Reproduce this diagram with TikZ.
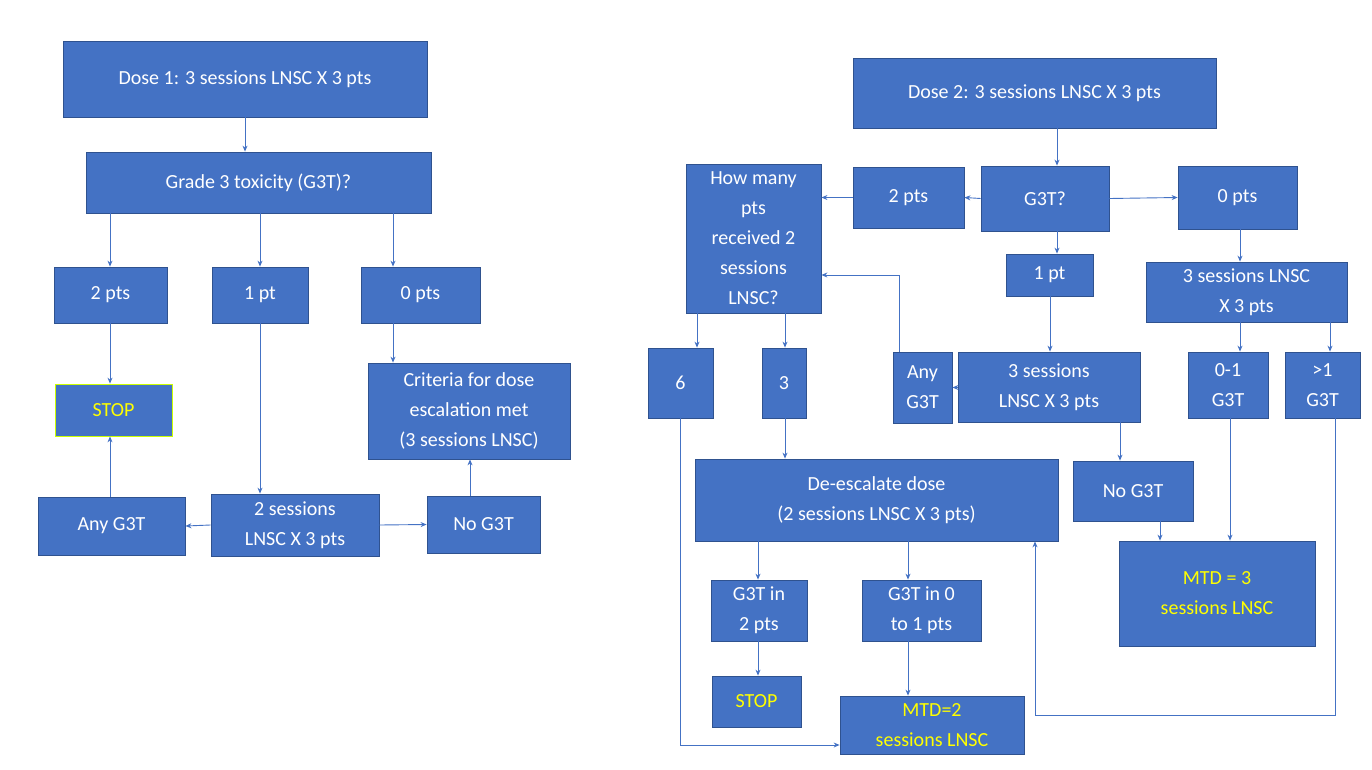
\documentclass[tikz,border=0pt]{standalone}
\usepackage{fontspec}
\setmainfont{Carlito}
\usetikzlibrary{arrows.meta}
\definecolor{bfill}{HTML}{4472C4}
\definecolor{bdraw}{HTML}{2F528F}
\definecolor{ytxt}{HTML}{FFFF00}
\tikzset{box/.style={draw=bdraw,fill=bfill,text=white,align=center,inner sep=2pt,font=\fontsize{20}{30}\selectfont,line width=0.8pt},
arr/.style={draw=bfill,line width=0.9pt,-{Stealth[length=6pt,width=5pt]}}}
\newcommand\bx[7][]{\node[box,#1,minimum width={(#5-#3)*1pt},minimum height={(#6-#4)*1pt}] (#2) at ({(#3+#5)/2},{-(#4+#6)/2}) {#7};}
\begin{document}
\begin{tikzpicture}[x=1pt,y=1pt]
\useasboundingbox (0,0) rectangle (1372,-770);
% left
\bx{d1}{63}{41}{427}{117}{Dose 1: 3 sessions LNSC X 3 pts}
\bx{g3}{86}{152}{431}{213}{Grade 3 toxicity (G3T)?}
\bx{l2}{54}{267}{167}{323}{2 pts}
\bx{l1}{212}{267}{308}{323}{1 pt}
\bx{l0}{361}{267}{480}{323}{0 pts}
\bx[draw=ytxt!80!green,text=ytxt]{lstop}{55}{384}{172}{436}{STOP}
\bx{crit}{368}{363}{570}{459}{Criteria for dose\\escalation met\\(3 sessions LNSC)}
\bx{lany}{38}{497}{185}{555}{Any G3T}
\bx{l2s}{211}{494}{379}{556}{2 sessions\\LNSC X 3 pts}
\bx{lno}{427}{496}{540}{553}{No G3T}
\draw[arr] (d1.south -| 245,0) -- (g3.north -| 245,0);
\draw[arr] (g3.south -| 110,0) -- (l2.north -| 110,0);
\draw[arr] (g3.south -| 260,0) -- (l1.north -| 260,0);
\draw[arr] (g3.south -| 393,0) -- (l0.north -| 393,0);
\draw[arr] (l2.south -| 110,0) -- (lstop.north -| 110,0);
\draw[arr] (l1.south -| 260,0) -- (l2s.north -| 260,0);
\draw[arr] (l0.south -| 393,0) -- (crit.north -| 393,0);
\draw[arr] (l2s.west) -- (lany.east);
\draw[arr] (l2s.east) -- (lno.west);
\draw[arr] (lany.north -| 110,0) -- (lstop.south -| 110,0);
\draw[arr] (lno.north -| 470,0) -- (crit.south -| 470,0);
% right
\bx{d2}{853}{58}{1216}{128}{Dose 2: 3 sessions LNSC X 3 pts}
\bx{rg}{981}{166}{1109}{231}{G3T?}
\bx{r2}{853}{167}{964}{228}{2 pts}
\bx{r0}{1178}{166}{1297}{229}{0 pts}
\bx{hm}{686}{164}{821}{313}{How many\\pts\\received 2\\sessions\\LNSC?}
\bx{r1}{1006}{254}{1093}{296}{1 pt}
\bx{r3t}{1146}{262}{1347}{322}{3 sessions LNSC\\X 3 pts}
\bx{six}{648}{348}{713}{418}{6}
\bx{three}{762}{348}{806}{418}{3}
\bx{rany}{893}{352}{952}{423}{Any\\G3T}
\bx{r3m}{958}{352}{1140}{422}{3 sessions\\LNSC X 3 pts}
\bx{r01}{1188}{352}{1268}{418}{0-1\\G3T}
\bx{rgt}{1285}{352}{1360}{418}{>1\\G3T}
\bx{de}{695}{459}{1058}{541}{De-escalate dose\\(2 sessions LNSC X 3 pts)}
\bx{rno}{1073}{461}{1193}{521}{No G3T}
\bx[text=ytxt]{mtd3}{1119}{541}{1315}{646}{MTD = 3\\sessions LNSC}
\bx{g2}{711}{580}{807}{641}{G3T in\\2 pts}
\bx{g01}{862}{580}{981}{641}{G3T in 0\\to 1 pts}
\bx[text=ytxt]{rstop}{712}{676}{801}{727}{STOP}
\bx[text=ytxt]{mtd2}{840}{696}{1024}{754}{MTD=2\\sessions LNSC}
\draw[arr] (d2.south -| 1057,0) -- (rg.north -| 1057,0);
\draw[arr] (rg.west) -- (r2.east);
\draw[arr] (rg.east) -- (r0.west);
\draw[arr] (r2.west) -- (hm.east |- r2.west);
\draw[arr] (rg.south -| 1057,0) -- (r1.north -| 1057,0);
\draw[arr] (r1.south -| 1050,0) -- (r3m.north -| 1050,0);
\draw[arr] (r3m.west |- rany.east) -- (rany.east);
\draw[arr] (rany.north -| 899,0) |- (hm.east |- 0,-275);
\draw[arr] (r3m.south -| 1120,0) -- (rno.north -| 1120,0);
\draw[arr] (rno.south -| 1160,0) -- (mtd3.north -| 1160,0);
\draw[arr] (r0.south -| 1240,0) -- (r3t.north -| 1240,0);
\draw[arr] (r3t.south -| 1240,0) -- (r01.north -| 1240,0);
\draw[arr] (r3t.south -| 1330,0) -- (rgt.north -| 1330,0);
\draw[arr] (r01.south -| 1230,0) -- (mtd3.north -| 1230,0);
\draw[arr] (rgt.south -| 1335,0) -- (1335,-715) -- (1035,-715) -- (de.south -| 1035,0);
\draw[arr] (hm.south -| 697,0) -- (six.north -| 697,0);
\draw[arr] (hm.south -| 785,0) -- (three.north -| 785,0);
\draw[arr] (six.south -| 680,0) |- (mtd2.west |- 0,-745);
\draw[arr] (three.south -| 785,0) -- (de.north -| 785,0);
\draw[arr] (de.south -| 758,0) -- (g2.north -| 758,0);
\draw[arr] (de.south -| 908,0) -- (g01.north -| 908,0);
\draw[arr] (g2.south -| 758,0) -- (rstop.north -| 758,0);
\draw[arr] (g01.south -| 908,0) -- (mtd2.north -| 908,0);
\end{tikzpicture}
\end{document}
